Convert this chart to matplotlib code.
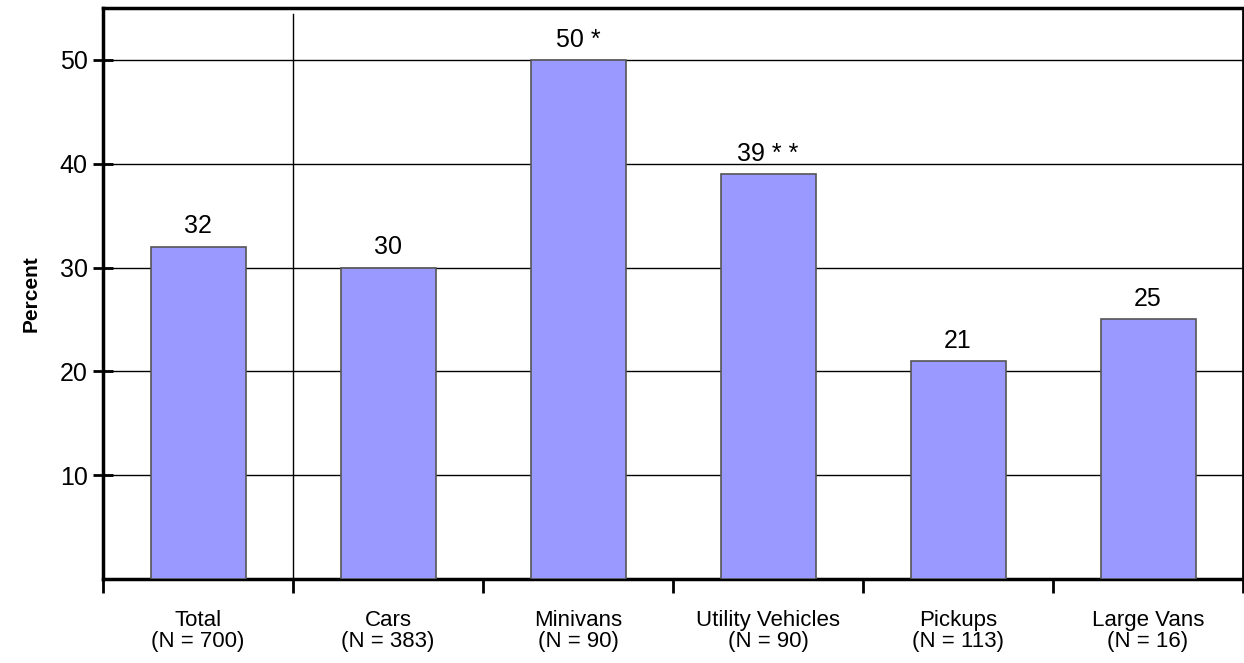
import matplotlib.pyplot as plt

categories = ['Total', 'Cars', 'Minivans', 'Utility Vehicles', 'Pickups', 'Large Vans']
sample_sizes = ['700', '383', '90', '90', '113', '16']
percent = [32, 30, 50, 39, 21, 25]
value_labels = ['32', '30', '50 *', '39 * *', '21', '25']

plt.rcParams['font.family'] = ['Liberation Sans', 'DejaVu Sans']

fig = plt.figure(figsize=(12.44, 6.63), dpi=100)
ax = fig.add_axes([103 / 1244, 84 / 663, 1140 / 1244, 571 / 663])

x = list(range(len(categories)))
ax.bar(x, percent, width=0.5, color='#9999ff', edgecolor='#555555', linewidth=1.2, zorder=3)

for xi, val, lab in zip(x, percent, value_labels):
    ax.annotate(lab, (xi, val), xytext=(0, 6), textcoords='offset points',
                ha='center', va='bottom', fontsize=18)

ax.set_xlim(-0.5, len(categories) - 0.5)
ax.set_ylim(0, 55)

# horizontal grid and the divider between Total and the vehicle types
for y in [10, 20, 30, 40, 50]:
    ax.axhline(y, color='black', linewidth=1, zorder=1)
ax.axvline(0.5, ymax=0.99, color='black', linewidth=1, zorder=1)

ax.set_yticks([10, 20, 30, 40, 50])
ax.tick_params(axis='y', direction='inout', length=14, width=2, labelsize=18, pad=4)

ax.set_xticks([i - 0.5 for i in range(len(categories) + 1)])
ax.set_xticklabels([])
ax.tick_params(axis='x', which='major', direction='out', length=10, width=2)
ax.set_xticks(x, minor=True)
ax.set_xticklabels([f'{c}\n(N = {n})' for c, n in zip(categories, sample_sizes)],
                   minor=True, fontsize=16, linespacing=1.0)
ax.tick_params(axis='x', which='minor', length=0, pad=22)

ax.set_ylabel('Percent', fontsize=15, fontweight='bold', labelpad=14)

for side in ['left', 'top', 'bottom']:
    ax.spines[side].set_linewidth(2.5)
ax.spines['right'].set_linewidth(2)

fig.savefig('out.png', dpi=100)
